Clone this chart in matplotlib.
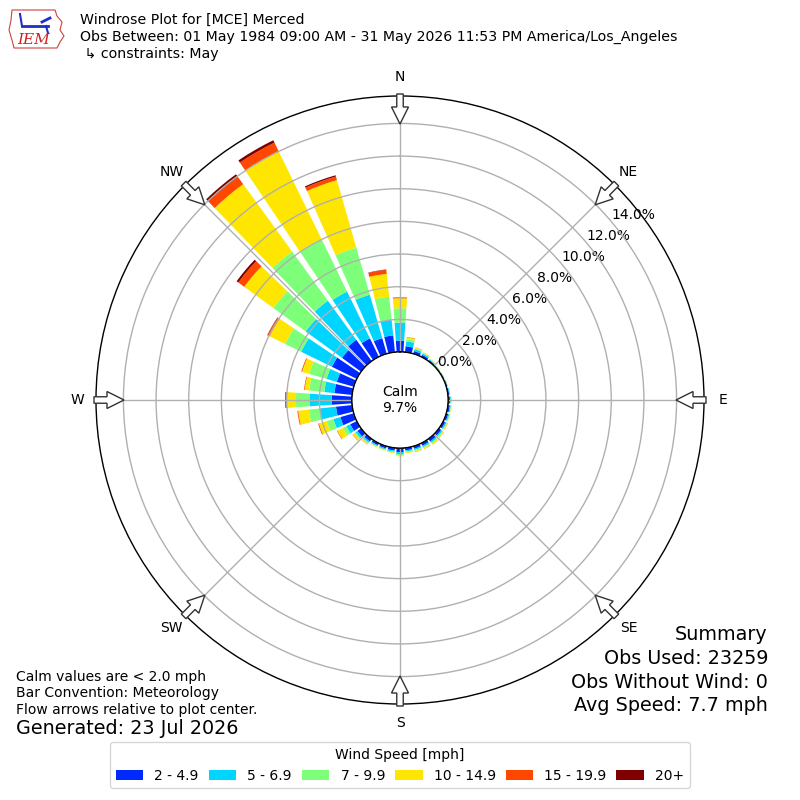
import numpy as np
import matplotlib
matplotlib.use('Agg')
import matplotlib.pyplot as plt
from matplotlib.patches import Patch, FancyArrow, Polygon

#---------------------------------------------------------------
# data (percent of obs per sector)
directions = np.arange(0, 360, 10)
bin_labels = ['2 - 4.9', '5 - 6.9', '7 - 9.9', '10 - 14.9', '15 - 19.9', '20+']

spd_2_5 = [0.69, 0.37, 0.18, 0.14, 0.09, 0.06, 0.06, 0.07, 0.09, 0.12, 0.13, 0.14,
           0.15, 0.18, 0.20, 0.18, 0.17, 0.16, 0.25, 0.17, 0.15, 0.15, 0.20, 0.28,
           0.45, 0.86, 1.00, 1.24, 1.10, 1.08, 1.70, 1.45, 1.62, 1.26, 1.00, 1.04]
spd_5_7 = [1.10, 0.30, 0.12, 0.09, 0.05, 0.03, 0.03, 0.03, 0.04, 0.05, 0.06, 0.07,
           0.08, 0.09, 0.10, 0.09, 0.08, 0.08, 0.12, 0.08, 0.07, 0.07, 0.10, 0.14,
           0.27, 0.44, 1.03, 1.37, 0.62, 0.66, 2.10, 2.75, 2.96, 3.19, 2.77, 0.99]
spd_7_10 = [0.89, 0.13, 0.06, 0.05, 0.03, 0.02, 0.01, 0.01, 0.02, 0.03, 0.03, 0.04,
            0.05, 0.06, 0.07, 0.06, 0.06, 0.05, 0.08, 0.05, 0.04, 0.04, 0.07, 0.10,
            0.23, 0.43, 0.64, 0.82, 0.94, 1.11, 1.10, 2.45, 3.72, 3.58, 3.00, 1.39]
spd_10_15 = [0.61, 0.12, 0.05, 0.04, 0.02, 0.01, 0.01, 0.01, 0.01, 0.02, 0.02, 0.03,
             0.04, 0.06, 0.07, 0.07, 0.07, 0.05, 0.06, 0.04, 0.04, 0.04, 0.07, 0.12,
             0.38, 0.50, 0.66, 0.56, 0.27, 0.45, 1.05, 2.20, 5.10, 5.97, 4.30, 1.41]
spd_15_20 = [0.06, 0.02, 0.01, 0.00, 0.00, 0.00, 0.00, 0.00, 0.00, 0.00, 0.00, 0.00,
             0.01, 0.01, 0.01, 0.01, 0.01, 0.00, 0.00, 0.00, 0.00, 0.00, 0.01, 0.02,
             0.03, 0.05, 0.05, 0.08, 0.04, 0.05, 0.14, 0.45, 0.55, 0.60, 0.23, 0.25]
spd_20p = [0.00, 0.00, 0.00, 0.00, 0.00, 0.00, 0.00, 0.00, 0.00, 0.00, 0.00, 0.00,
           0.00, 0.00, 0.00, 0.00, 0.00, 0.00, 0.00, 0.00, 0.00, 0.00, 0.00, 0.00,
           0.00, 0.00, 0.00, 0.03, 0.00, 0.00, 0.02, 0.13, 0.20, 0.16, 0.08, 0.02]

calm_pct = 9.7
rticks = np.arange(0, 15, 2)
compass = ['N', 'NE', 'E', 'SE', 'S', 'SW', 'W', 'NW']

title_lines = ['Windrose Plot for [MCE] Merced',
               'Obs Between: 01 May 1984 09:00 AM - 31 May 2026 11:53 PM America/Los_Angeles',
               ' \u21b3 constraints: May']
left_notes = ['Calm values are < 2.0 mph', 'Bar Convention: Meteorology',
              'Flow arrows relative to plot center.']
summary = ['Summary', 'Obs Used: 23259', 'Obs Without Wind: 0', 'Avg Speed: 7.7 mph']

#---------------------------------------------------------------
series = [spd_2_5, spd_5_7, spd_7_10, spd_10_15, spd_15_20, spd_20p]
colors = plt.get_cmap('jet')(np.linspace(0, 1, 7)[1:])

fig = plt.figure(figsize=(8, 8), dpi=100)
ax = fig.add_axes([0.12, 0.12, 0.76, 0.76], projection='polar')
ax.set_theta_zero_location('N')
ax.set_theta_direction(-1)

theta = np.deg2rad(directions)
bottom = np.zeros(len(directions))
for vals, col in zip(series, colors):
    vals = np.array(vals)
    ax.bar(theta, vals, width=np.deg2rad(8), bottom=bottom, color=col,
           linewidth=0, zorder=1)
    bottom += vals

ax.set_rlim(0, 15.68)
ax.set_rorigin(-2.94)
ax.set_rgrids(rticks, ['%.1f%%' % v for v in rticks], angle=50, fontsize=10)
ax.set_thetagrids(np.arange(0, 360, 45), [''] * 8)
ax.grid(True, color='#b0b0b0', linewidth=1.0)
ax.spines['polar'].set_color('black')
ax.spines['polar'].set_linewidth(1.0)

# calm circle
tt = np.linspace(0, 2 * np.pi, 361)
ax.plot(tt, np.zeros_like(tt), color='black', lw=1.2, zorder=5)

#---------------------------------------------------------------
# overlay in pixel coords for arrows, labels and texts
ov = fig.add_axes([0, 0, 1, 1], zorder=10)
ov.set_xlim(0, 800)
ov.set_ylim(800, 0)
ov.axis('off')
ov.patch.set_alpha(0)

cx, cy = 400, 400
for k, lab in enumerate(compass):
    a = np.deg2rad(45 * k)
    sx, sy = np.sin(a), -np.cos(a)
    x0, y0 = cx + 306 * sx, cy + 306 * sy
    ov.add_patch(FancyArrow(x0, y0, -30 * sx, -30 * sy, width=6.5, head_width=17,
                            head_length=17, length_includes_head=True,
                            fc='white', ec='#333333', lw=1.0))
    ov.text(cx + 323 * sx, cy + 323 * sy, lab, ha='center', va='center', fontsize=10)

ov.text(cx, cy, 'Calm\n%.1f%%' % calm_pct, ha='center', va='center', fontsize=10,
        linespacing=1.1)

for i, s in enumerate(title_lines):
    ov.text(80, 20 + 17 * i, s, ha='left', va='center', fontsize=10.15)

for i, s in enumerate(left_notes):
    ov.text(16, 677 + 16.5 * i, s, ha='left', va='center', fontsize=10)
ov.text(16, 729, 'Generated: 23 Jul 2026', ha='left', va='center', fontsize=13.75)

for i, s in enumerate(summary):
    ov.text(768, 635 + 23.6 * i, s, ha='right', va='center', fontsize=13.8)

# IEM logo (rough)
iowa = [(12, 10), (55, 10), (57, 16), (62, 22), (60, 30), (64, 36), (60, 42),
        (57, 48), (14, 48), (12, 40), (9, 30), (11, 20)]
ov.add_patch(Polygon(iowa, closed=True, fill=False, ec='#d04040', lw=0.8))
ov.plot([22, 48], [26, 26], color='#2030c0', lw=2)
ov.plot([22, 20], [26, 14], color='#2030c0', lw=1.5)
ov.plot([42, 50], [22, 18], color='#2030c0', lw=2)
ov.plot([46, 48], [26, 33], color='#2030c0', lw=1.5)
ov.text(34, 40, 'IEM', ha='center', va='center', fontsize=11, color='#d02020',
        family='DejaVu Serif', style='italic')

handles = [Patch(facecolor=c, edgecolor='none') for c in colors]
fig.legend(handles, bin_labels, loc='lower center', bbox_to_anchor=(0.5, 0.006),
           ncol=6, fontsize=10, title='Wind Speed [mph]', title_fontsize=10,
           handlelength=2.0, handleheight=0.7, columnspacing=0.7, frameon=True)

fig.savefig('out.png', dpi=100)
